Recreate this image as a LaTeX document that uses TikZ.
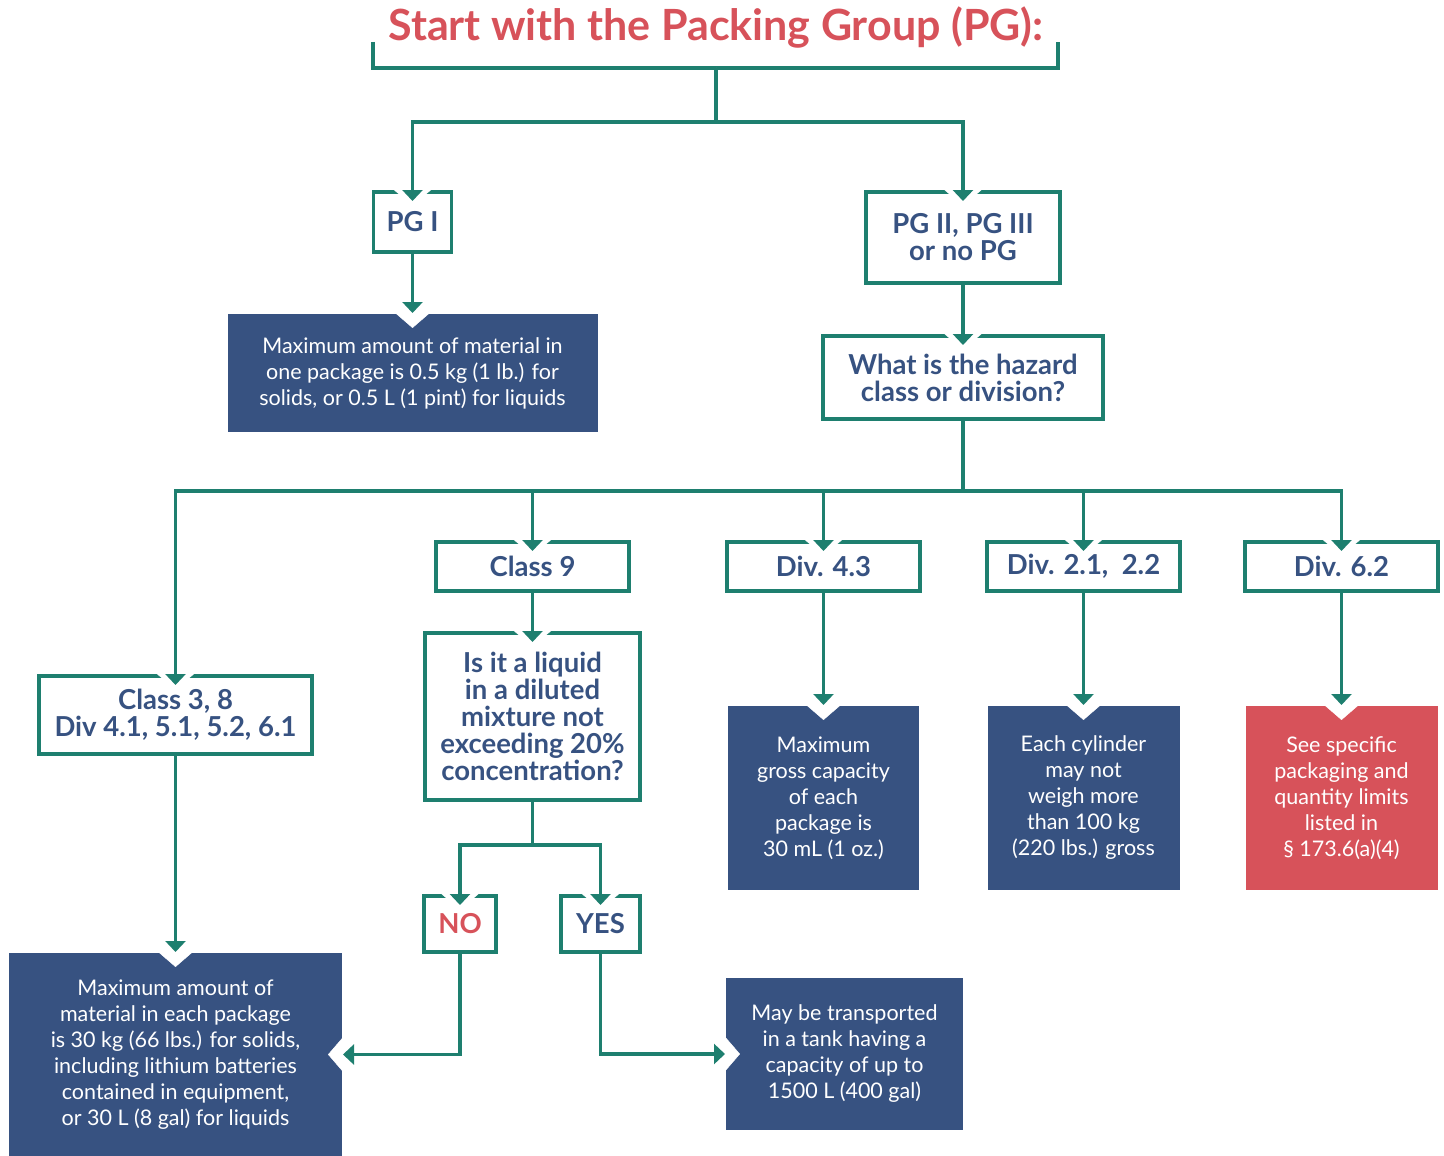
\documentclass[tikz,border=0pt]{standalone}
\usepackage{fontspec}
\setmainfont{Lato}
\usetikzlibrary{arrows.meta}

\definecolor{hazteal}{RGB}{30,127,111}
\definecolor{haznavy}{RGB}{55,82,129}
\definecolor{hazred}{RGB}{215,82,90}

\begin{document}
\begin{tikzpicture}[x=1pt, y=-1pt,
    wire/.style={draw=hazteal, line width=3.5pt},
    conn/.style={wire, -{Triangle[width=20pt,length=11pt]}},
    gapin/.style={shorten >=-9pt, preaction={draw=white, -{Triangle[width=62pt,length=27pt]}, shorten >=-16pt}},
    notchin/.style={shorten >=1pt, preaction={draw=white, -{Triangle[width=62pt,length=27pt]}, shorten >=-16pt}},
    heading/.style={text=hazred, font=\fontsize{43}{44}\selectfont\bfseries, inner sep=0pt},
    pgbox/.style={draw=hazteal, line width=3.5pt, outer sep=0pt, inner sep=0pt, text=haznavy, font=\fontsize{27.5}{27}\selectfont\bfseries, align=center},
    infobox/.style={fill=haznavy, outer sep=0pt, inner sep=0pt, text=white, font=\fontsize{21.5}{26}\selectfont, align=center},
    warnbox/.style={infobox, fill=hazred}
]
\useasboundingbox (0,0) rectangle (1444,1156);

% Heading and bracket
\node[heading] at (716,28) (title) {Start with the Packing Group (PG):};
\coordinate (brl) at (373,42);
\coordinate (brr) at (1058,42);
\coordinate (trunk) at (716,68);
\draw[wire] (brl) |- (trunk) -| (brr);

% Packing groups
\node[pgbox, minimum width=78, minimum height=60] at (412.5,222) (pg1) {PG I};
\node[pgbox, minimum width=194, minimum height=91] at (963,237.5) (pg2) {PG II, PG III\\or no PG};
\node[infobox, minimum width=370, minimum height=118] at (412.5,373) (pg1res) {Maximum amount of material in\\one package is 0.5 kg (1 lb.) for\\solids, or 0.5 L (1 pint) for liquids};
\node[pgbox, minimum width=280, minimum height=83] at (963,377.5) (hazard) {What is the hazard\\class or division?};

% Hazard classes
\node[pgbox, minimum width=273, minimum height=78] at (175.5,715) (class3) {Class 3, 8\\Div 4.1, 5.1, 5.2, 6.1};
\node[pgbox, minimum width=193, minimum height=49] at (532.5,566.5) (class9) {Class 9};
\node[pgbox, minimum width=193, minimum height=49] at (823.5,566.5) (div43) {Div. 4.3};
\node[pgbox, minimum width=193, minimum height=49] at (1083.5,566.5) (div21) {Div. 2.1,\ \ 2.2};
\node[pgbox, minimum width=193, minimum height=49] at (1341.5,566.5) (div62) {Div. 6.2};

% Class 9 question
\node[pgbox, minimum width=215, minimum height=167] at (532.5,716.5) (liquid) {Is it a liquid\\in a diluted\\mixture not\\exceeding 20\%\\concentration?};
\node[pgbox, text=hazred, minimum width=72, minimum height=56] at (460,924) (no) {NO};
\node[pgbox, minimum width=79, minimum height=56] at (600.5,924) (yes) {YES};

% Limits
\node[infobox, minimum width=333, minimum height=203] at (175.5,1054.5) (class3res) {Maximum amount of\\material in each package\\is 30 kg (66 lbs.) for solids,\\including lithium batteries\\contained in equipment,\\or 30 L (8 gal) for liquids};
\node[infobox, minimum width=237, minimum height=152] at (844.5,1054) (yesres) {May be transported\\in a tank having a\\capacity of up to\\1500 L (400 gal)};
\node[infobox, minimum width=191, minimum height=184] at (823.5,798) (div43res) {Maximum\\gross capacity\\of each\\package is\\30 mL (1 oz.)};
\node[infobox, minimum width=192, minimum height=184] at (1083.5,798) (div21res) {Each cylinder\\may not\\weigh more\\than 100 kg\\(220 lbs.) gross};
\node[warnbox, minimum width=192, minimum height=184] at (1341.5,798) (div62res) {See specific\\packaging and\\quantity limits\\listed in\\\S\ 173.6(a)(4)};

% Arrows
\draw[conn, gapin] (trunk) -- ++(0,54) -| (pg1.north);
\draw[conn, gapin] (trunk) -- ++(0,54) -| (pg2.north);
\draw[conn, notchin] (pg1.south) -- (pg1res.north);
\draw[conn, gapin] (pg2.south) -- (hazard.north);
\draw[conn, gapin] (hazard.south) -- ++(0,72) -| (class3.north);
\draw[conn, gapin] (hazard.south) -- ++(0,72) -| (class9.north);
\draw[conn, gapin] (hazard.south) -- ++(0,72) -| (div43.north);
\draw[conn, gapin] (hazard.south) -- ++(0,72) -| (div21.north);
\draw[conn, gapin] (hazard.south) -- ++(0,72) -| (div62.north);
\draw[conn, notchin] (class3.south) -- (class3res.north);
\draw[conn, gapin] (class9.south) -- (liquid.north);
\draw[conn, notchin] (div43.south) -- (div43res.north);
\draw[conn, notchin] (div21.south) -- (div21res.north);
\draw[conn, notchin] (div62.south) -- (div62res.north);
\draw[conn, gapin] (liquid.south) -- ++(0,45) -| (no.north);
\draw[conn, gapin] (liquid.south) -- ++(0,45) -| (yes.north);
\draw[conn, notchin] (no.south) |- (class3res.east);
\draw[conn, notchin] (yes.south) |- (yesres.west);

\end{tikzpicture}
\end{document}
